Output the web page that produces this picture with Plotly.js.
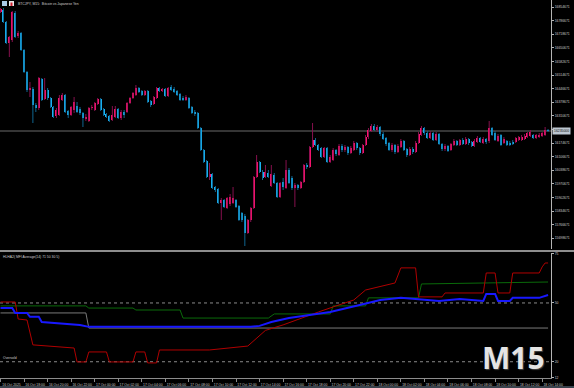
<!DOCTYPE html>
<html><head><meta charset="utf-8">
<script src="https://cdn.plot.ly/plotly-3.0.1.min.js"></script>
<style>html,body{margin:0;padding:0;background:#000;overflow:hidden}#c{width:574px;height:388px}</style>
</head><body><div id="c"></div>
<script>
// BTCJPY M15 candles, prices in thousands of JPY
const openK = [
16830,16840,16780,16675,16690,16825,16710,16725,16640,16530,
16440,16445,16365,16350,16495,16395,16440,16400,16355,16310,
16315,16390,16415,16335,16315,16340,16360,16345,16325,16295,
16285,16350,16340,16370,16395,16345,16320,16310,16290,16305,
16345,16300,16330,16330,16375,16400,16415,16450,16435,16415,
16435,16385,16370,16400,16450,16435,16445,16410,16455,16445,
16435,16420,16400,16390,16400,16355,16330,16325,16250,16140,
16085,16005,16020,15955,15945,15875,15890,15850,15870,15875,
15890,15860,15825,15810,15725,15790,15850,16005,16080,16030,
16005,16025,15960,16015,15975,15905,15980,15950,16040,16000,
15950,15965,15950,15980,16065,16055,16155,16190,16165,16150,
16105,16150,16080,16090,16140,16115,16160,16140,16155,16125,
16140,16175,16150,16125,16165,16205,16235,16260,16240,16255,
16220,16200,16175,16140,16165,16130,16155,16185,16145,16115,
16145,16130,16175,16215,16250,16225,16200,16225,16190,16220,
16170,16145,16160,16140,16165,16185,16165,16190,16170,16195,
16180,16160,16180,16200,16175,16195,16185,16250,16225,16185,
16215,16175,16185,16175,16180,16180,16190,16190,16195,16205,
16210,16215,16200,16205,16210,16215,16240];
const highK = [
16850,16850,16785,16710,16835,16835,16735,16730,16645,16535,
16480,16455,16375,16505,16500,16500,16450,16405,16360,16350,
16415,16425,16420,16340,16360,16405,16380,16355,16330,16320,
16355,16365,16380,16400,16400,16350,16325,16315,16360,16360,
16350,16340,16340,16380,16405,16430,16465,16455,16440,16440,
16440,16390,16410,16455,16455,16450,16450,16455,16465,16455,
16440,16425,16410,16415,16405,16360,16340,16330,16255,16145,
16090,16075,16025,15960,15950,15900,15895,15905,15920,15955,
15895,15865,15830,15820,15795,15855,16010,16115,16085,16040,
16065,16040,16065,16025,15980,15980,16000,16090,16050,16010,
15975,15970,15985,16070,16075,16160,16275,16200,16170,16155,
16155,16155,16115,16150,16145,16170,16170,16165,16160,16160,
16185,16180,16155,16170,16215,16250,16270,16270,16265,16260,
16230,16205,16180,16175,16170,16170,16195,16190,16150,16155,
16155,16185,16230,16260,16255,16235,16235,16230,16230,16225,
16175,16170,16165,16175,16195,16190,16195,16200,16205,16200,
16185,16195,16210,16205,16205,16200,16285,16255,16235,16220,
16220,16205,16190,16185,16190,16205,16210,16215,16220,16230,
16240,16220,16220,16225,16230,16255,16245];
const lowK = [
16825,16775,16670,16605,16680,16700,16700,16635,16525,16430,
16405,16275,16330,16340,16385,16390,16390,16350,16300,16300,
16310,16385,16325,16300,16310,16325,16325,16315,16255,16285,
16280,16340,16335,16365,16335,16310,16300,16280,16285,16300,
16295,16290,16300,16325,16370,16395,16410,16425,16410,16410,
16375,16355,16365,16395,16430,16430,16405,16405,16435,16425,
16410,16385,16385,16385,16345,16320,16310,16245,16135,16075,
16000,15990,15945,15930,15870,15790,15850,15845,15860,15870,
15850,15785,15780,15660,15720,15780,15845,16000,16025,15990,
16000,16000,15955,15970,15900,15900,15940,15945,15970,15940,
15855,15940,15945,15975,16045,16050,16150,16160,16135,16100,
16100,16075,16075,16085,16110,16110,16130,16130,16115,16120,
16135,16140,16115,16120,16160,16195,16230,16235,16230,16210,
16190,16160,16135,16130,16120,16125,16150,16135,16105,16110,
16120,16125,16170,16210,16215,16195,16195,16185,16185,16165,
16135,16135,16130,16135,16160,16160,16160,16165,16165,16165,
16155,16155,16175,16175,16170,16170,16175,16210,16185,16180,
16160,16170,16160,16160,16165,16175,16185,16185,16190,16200,
16205,16195,16195,16200,16205,16210,16230];
const closeK = [
16845,16780,16675,16705,16830,16705,16725,16640,16530,16440,
16450,16365,16350,16500,16390,16440,16400,16355,16305,16340,
16400,16415,16330,16315,16355,16380,16330,16325,16300,16305,
16350,16355,16375,16395,16340,16315,16305,16285,16315,16345,
16300,16330,16315,16375,16400,16425,16450,16430,16415,16435,
16380,16365,16405,16450,16435,16445,16410,16450,16440,16430,
16415,16390,16390,16405,16350,16325,16320,16250,16140,16080,
16005,16020,15950,15940,15875,15890,15855,15900,15905,15900,
15855,15790,15790,15725,15790,15850,16005,16080,16030,16000,
16030,16005,16020,15975,15905,15975,15955,16040,15975,15950,
15965,15950,15980,16065,16055,16155,16190,16165,16140,16105,
16150,16080,16105,16140,16120,16160,16140,16155,16125,16150,
16175,16150,16125,16165,16205,16240,16260,16240,16255,16220,
16195,16170,16140,16165,16130,16160,16185,16140,16115,16145,
16130,16175,16220,16250,16225,16200,16225,16190,16220,16170,
16145,16160,16135,16170,16185,16165,16190,16170,16195,16175,
16160,16185,16200,16180,16195,16180,16250,16215,16190,16210,
16165,16195,16165,16165,16170,16200,16205,16205,16210,16225,
16230,16200,16215,16215,16225,16240,16235];

const priceTicks = [16854671,16786671,16718671,16650671,16582671,16514671,16446671,16378671,16310671,
  16242671,16174671,16106671,16038671,15970671,15902671,15834671,15766671,15698671];

const timeLabels = ["16 Oct 2025","16 Oct 18:00","16 Oct 20:00","16 Oct 22:00","17 Oct 00:00","17 Oct 02:00",
  "17 Oct 04:00","17 Oct 06:00","17 Oct 08:00","17 Oct 10:00","17 Oct 12:00","17 Oct 14:00","17 Oct 16:00",
  "17 Oct 18:00","17 Oct 20:00","17 Oct 22:00","18 Oct 00:00","18 Oct 02:00","18 Oct 04:00","18 Oct 06:00",
  "18 Oct 08:00","18 Oct 10:00","18 Oct 12:00","18 Oct 14:00"];
const timeTickBars = [0,8,16,24,32,40,48,56,64,72,80,88,96,104,112,120,128,136,144,152,160,168,176,184];

// Indicator lines (bar index, value)
const redX = [0,5,6,9,11,25,26,29,30,36,37,45,46,49,50,53,54,71,84,90,96,102,108,115,120,124,134,136,141,142,150,151,164,165,168,169,173,174,183,184,185,186];
const redV = [50.5,50.5,41.8,41.3,28.6,27,19.9,19.9,25,25,19.9,19.9,25,25,19.4,19.4,26,26,28,36,38.8,42.3,45.4,49,51.5,56.6,60.2,67.9,67.9,53.1,53.1,55.1,55.1,65.3,65.3,55.1,55.1,65.3,65.3,68.4,70.4,70.4];
const greenX = [0,29,30,45,46,61,62,91,93,112,113,124,125,142,143,186];
const greenV = [48.5,48.5,47.4,47.4,46.4,46.4,42.3,42.3,44.4,44.4,48.5,48.5,52.6,52.6,59.7,60.7];
const blueX = [0,4,5,9,10,13,14,27,30,85,88,92,98,112,122,129,136,142,149,156,163,164,165,168,169,173,174,183,186];
const blueV = [47.4,47.4,44.9,44.9,42.9,42.9,40.3,38.8,37.8,37.8,38.3,40.3,42.3,45.4,49,51.5,52.6,52,51,52,51,51,54.6,54.6,51,51,52.6,52.6,54.1];
const greyX = [0,29,30,186];
const greyV = [44.9,44.9,37.2,37.2];
const levels = [50, 20];
const indTicks = [75, 50, 20, 12];

// ---- build ----
const K = 1000;
const o = openK.map(v=>v*K), h = highK.map(v=>v*K), l = lowK.map(v=>v*K), c = closeK.map(v=>v*K);
const idx = o.map((_,i)=>i);
const BULL='#ff1470', BEAR='#1ab4f5', BULLW='#86104e', BEARW='#0f6590';
function wicks(up){
  const xs=[], ys=[];
  idx.forEach(i=>{ if((c[i]>=o[i])===up){ xs.push(i,i,null); ys.push(l[i],h[i],null);} });
  return {type:'scatter',mode:'lines',x:xs,y:ys,xaxis:'x',yaxis:'y',line:{color:up?BULLW:BEARW,width:1},hoverinfo:'skip'};
}
const bodies = {type:'bar',x:idx,base:o,y:idx.map(i=>c[i]-o[i]),width:0.68,xaxis:'x',yaxis:'y',
  marker:{color:idx.map(i=>c[i]>=o[i]?BULL:BEAR),line:{width:0}},hoverinfo:'skip'};
function ind(x,y,color,w){return {type:'scatter',mode:'lines',x:x,y:y,xaxis:'x',yaxis:'y2',line:{color:color,width:w},hoverinfo:'skip'};}

const traces=[wicks(true),wicks(false),bodies,
  ind(greyX,greyV,'#7a7a7a',1), ind(greenX,greenV,'#0a6a0a',1), ind(redX,redV,'#b00000',1), ind(blueX,blueV,'#1818ff',2)];

const W=551, H=378;
const px=(x)=>x/W, py=(y)=>1-y/H;
const small={family:'Liberation Sans, Arial, sans-serif',size:3.4,color:'#cfcfcf'};
const last=c[c.length-1];
const shapes=[
  {type:'line',xref:'paper',x0:0,x1:1,yref:'y',y0:last,y1:last,line:{color:'#6a6a6a',width:1},layer:'below'},
  {type:'rect',xref:'paper',yref:'paper',x0:0,x1:574/W,y0:py(252),y1:py(250),fillcolor:'#8e8e8e',line:{width:0}},
  {type:'rect',xref:'paper',yref:'paper',x0:0,x1:574/W,y0:py(388),y1:py(386),fillcolor:'#39424c',line:{width:0}},
  {type:'rect',xref:'paper',yref:'paper',x0:px(2),x1:px(7),y0:py(6),y1:py(1),fillcolor:'#a9c9e6',line:{width:0}},
  {type:'rect',xref:'paper',yref:'paper',x0:px(9),x1:px(14),y0:py(6),y1:py(1),fillcolor:'#e9e9e9',line:{width:0}},
  {type:'rect',xref:'paper',yref:'paper',x0:px(10.5),x1:px(12.5),y0:py(6),y1:py(2.5),fillcolor:'#d01c2c',line:{width:0}}
];
levels.forEach(v=>shapes.push({type:'line',xref:'paper',x0:0,x1:1,yref:'y2',y0:v,y1:v,line:{color:'#8a8a8a',width:1,dash:'dot'},layer:'below'}));

const annotations=[
  {xref:'paper',yref:'paper',x:px(16),y:py(3.6),xanchor:'left',yanchor:'middle',showarrow:false,text:'BTCJPY, M15:  Bitcoin vs Japanese Yen',font:small},
  {xref:'paper',yref:'paper',x:px(1),y:py(256.5),xanchor:'left',yanchor:'middle',showarrow:false,text:'HLHA2( MFI Average(14) 71 50 30 5)',font:small},
  {xref:'paper',yref:'y2',x:px(1),y:20,xanchor:'left',yanchor:'bottom',showarrow:false,text:'Oversold',font:small},
  {xref:'paper',yref:'paper',x:px(547),y:py(380),xanchor:'right',yanchor:'bottom',showarrow:false,text:'M15',
    font:{family:'Open Sans, sans-serif',size:30,weight:700,color:'#e4e4e4',shadow:'1px 1px 1px #444'}},
  {xref:'paper',yref:'y',x:px(552),y:last,xanchor:'left',yanchor:'middle',showarrow:false,text:String(last),
    bgcolor:'#bcc6d0',borderpad:1,font:{family:'Liberation Sans, Arial, sans-serif',size:3.4,color:'#111'}}
];

const axisTickFont={family:'Liberation Sans, Arial, sans-serif',size:3.4,color:'#c8c8c8'};
const layout={
  width:574,height:388,paper_bgcolor:'#000',plot_bgcolor:'#000',showlegend:false,
  margin:{l:0,r:23,t:0,b:10,pad:0},bargap:0,
  xaxis:{range:[-0.17,187.0],anchor:'y2',showgrid:false,zeroline:false,showline:true,linecolor:'#8c8c8c',linewidth:1,
    ticks:'outside',ticklen:3,tickcolor:'#8c8c8c',tickvals:timeTickBars,ticktext:timeLabels,tickfont:axisTickFont,
    ticklabelshift:11,automargin:false,fixedrange:true},
  yaxis:{domain:[1-249/H,1],side:'right',anchor:'x',range:[15645000,16890000],showgrid:false,zeroline:false,
    showline:true,linecolor:'#b4b4b4',linewidth:1,ticks:'outside',ticklen:2,tickcolor:'#b4b4b4',
    tickvals:priceTicks,ticktext:priceTicks.map(String),tickfont:axisTickFont,automargin:false,fixedrange:true},
  yaxis2:{domain:[0,1-253/H],side:'right',anchor:'x',range:[11.7,75.5],showgrid:false,zeroline:false,
    showline:true,linecolor:'#b4b4b4',linewidth:1,ticks:'outside',ticklen:2,tickcolor:'#b4b4b4',
    tickvals:indTicks,ticktext:indTicks.map(String),tickfont:axisTickFont,automargin:false,fixedrange:true},
  shapes:shapes,annotations:annotations
};
Plotly.newPlot('c',traces,layout,{staticPlot:true,displayModeBar:false});
</script></body></html>
